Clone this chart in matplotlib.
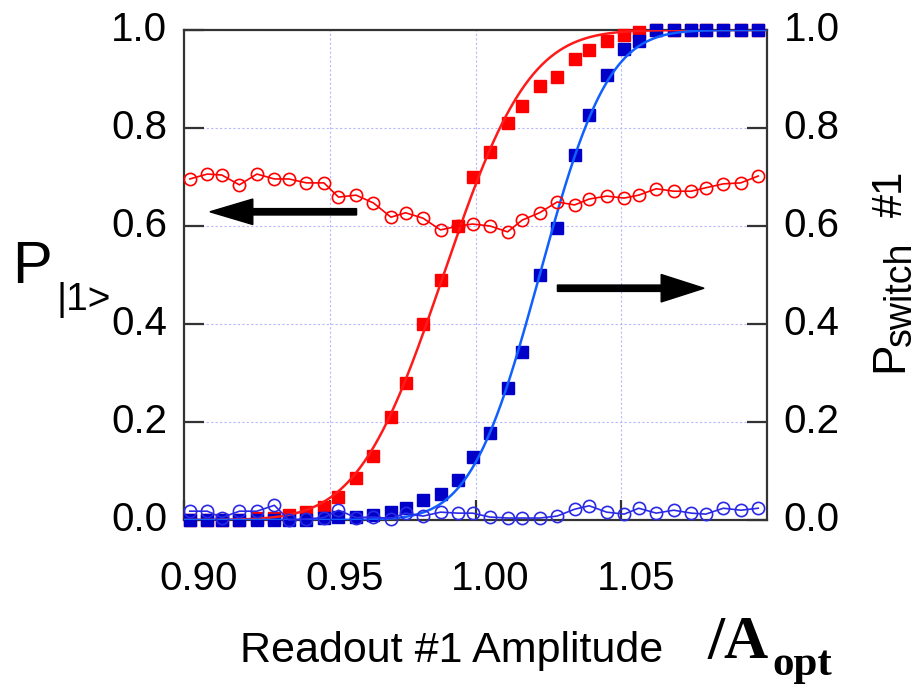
import math
import numpy as np
import matplotlib
matplotlib.use("Agg")
import matplotlib.pyplot as plt
from matplotlib.transforms import ScaledTranslation

# Readout amplitude, normalised to A_opt
amplitude = [0.902, 0.908, 0.913, 0.919, 0.925, 0.931, 0.936, 0.942, 0.948, 0.953,
             0.959, 0.965, 0.971, 0.976, 0.982, 0.988, 0.994, 0.999, 1.005, 1.011,
             1.016, 1.022, 1.028, 1.034, 1.039, 1.045, 1.051, 1.056, 1.062, 1.068,
             1.074, 1.079, 1.085, 1.091, 1.097]

# Switching probability of readout #1 (right axis)
pswitch_red = [0.000, 0.000, 0.000, 0.000, 0.005, 0.005, 0.010, 0.016, 0.027, 0.047,
               0.085, 0.130, 0.210, 0.280, 0.400, 0.490, 0.600, 0.700, 0.750, 0.810,
               0.845, 0.885, 0.905, 0.940, 0.960, 0.977, 0.990, 0.995, 1.000, 1.000,
               1.000, 1.000, 1.000, 1.000, 1.000]
pswitch_blue = [0.000, 0.000, 0.000, 0.000, 0.000, 0.000, 0.000, 0.000, 0.004, 0.006,
                0.006, 0.010, 0.016, 0.024, 0.041, 0.053, 0.082, 0.129, 0.178, 0.270,
                0.343, 0.500, 0.596, 0.745, 0.826, 0.908, 0.961, 0.978, 1.000, 1.000,
                1.000, 1.000, 1.000, 1.000, 1.000]

# Excited-state probability P|1> (left axis)
p1_red = [0.696, 0.706, 0.704, 0.684, 0.706, 0.696, 0.696, 0.688, 0.688, 0.659,
          0.663, 0.647, 0.618, 0.627, 0.616, 0.592, 0.600, 0.604, 0.600, 0.588,
          0.612, 0.627, 0.649, 0.643, 0.655, 0.661, 0.657, 0.663, 0.676, 0.671,
          0.671, 0.678, 0.686, 0.688, 0.702]
p1_blue = [0.018, 0.018, 0.005, 0.018, 0.018, 0.030, 0.000, 0.002, 0.005, 0.020,
           0.005, 0.006, 0.003, 0.014, 0.008, 0.016, 0.014, 0.014, 0.006, 0.004,
           0.004, 0.004, 0.008, 0.022, 0.029, 0.016, 0.012, 0.024, 0.014, 0.020,
           0.014, 0.012, 0.024, 0.020, 0.024]

# Error-function fits to the switching curves (centre, width)
fit_red = (0.9890, 0.0230)
fit_blue = (1.0220, 0.0185)

x_ticks = [0.90, 0.95, 1.00, 1.05]
x_tick_labels = ["0.90", "0.95", "1.00", "1.05"]
y_ticks = [0.0, 0.2, 0.4, 0.6, 0.8, 1.0]
y_tick_labels = ["0.0", "0.2", "0.4", "0.6", "0.8", "1.0"]


def erf_curve(x, centre, width):
    return np.array([0.5 * (1 + math.erf((v - centre) / (width * math.sqrt(2)))) for v in x])


W, H = 920, 684
fig = plt.figure(figsize=(W / 100, H / 100), dpi=100)
fig.patch.set_facecolor("white")
ax = fig.add_axes([184 / W, 1 - 520 / H, (767 - 184) / W, (520 - 30) / H])

SANS = "Liberation Sans"
SERIF = "Liberation Serif"

RED = "#ff0000"
RED_FIT = "#ff1a1a"
BLUE_SQ = "#0000c8"
BLUE_FIT = "#1060ff"
BLUE_CIRC = "#2a2ae6"

xfit = np.linspace(0.90, 1.10, 400)

ms_sq = 8.4
ms_c = 8.8

# switching probabilities with fits
ax.plot(amplitude, pswitch_red, ls="none", marker="s", ms=ms_sq, color=RED,
        mec=RED, clip_on=False, zorder=3)
ax.plot(xfit, erf_curve(xfit, *fit_red), color=RED_FIT, lw=1.8, zorder=4)
ax.plot(amplitude, pswitch_blue, ls="none", marker="s", ms=ms_sq, color=BLUE_SQ,
        mec=BLUE_SQ, clip_on=False, zorder=3)
ax.plot(xfit, erf_curve(xfit, *fit_blue), color=BLUE_FIT, lw=1.8, zorder=4)

# excited-state probabilities
ax.plot(amplitude, p1_red, color=RED, lw=1.2, marker="o", ms=ms_c, mfc="none",
        mec=RED, mew=1.2, clip_on=False, zorder=5)
ax.plot(amplitude, p1_blue, color=BLUE_CIRC, lw=1.2, marker="o", ms=ms_c, mfc="none",
        mec=BLUE_CIRC, mew=1.2, clip_on=False, zorder=5)

# arrows pointing to the relevant axes
ax.arrow(0.9592, 0.629, 0.9089 - 0.9592, 0.0, width=0.013, head_width=0.052,
         head_length=0.0147, length_includes_head=True, color="black", zorder=6)
ax.arrow(1.0281, 0.473, 1.0784 - 1.0281, 0.0, width=0.013, head_width=0.056,
         head_length=0.0147, length_includes_head=True, color="black", zorder=6)

ax.set_xlim(0.90, 1.10)
ax.set_ylim(0.0, 1.0)

ax.grid(True, color="#b8b8ff", ls=(0, (2, 2)), lw=0.8)
ax.set_axisbelow(True)

ax.set_xticks(x_ticks)
ax.set_xticklabels(x_tick_labels)
ax.set_yticks(y_ticks)
ax.set_yticklabels(y_tick_labels)

for s in ax.spines.values():
    s.set_linewidth(1.6)
    s.set_color("#333333")

ax.tick_params(axis="x", direction="in", length=14.5, width=1.6, color="#333333",
               pad=29, labelsize=29)
ax.tick_params(axis="y", direction="in", length=14.5, width=1.6, color="#333333",
               pad=12, labelsize=29, right=True, labelright=True)
for lab in ax.get_xticklabels() + ax.get_yticklabels():
    lab.set_fontfamily(SANS)
for lab in ax.get_xticklabels():
    lab.set_transform(lab.get_transform() + ScaledTranslation(0.15, 0, fig.dpi_scale_trans))
for t in ax.yaxis.get_major_ticks():
    for lab in (t.label1, t.label2):
        lab.set_fontfamily(SANS)
        lab.set_transform(lab.get_transform() + ScaledTranslation(0, 0.04, fig.dpi_scale_trans))


def px(x, y):
    return x / 100, (H - y) / 100


tr = fig.dpi_scale_trans

# left axis label P_|1>
fig.text(*px(12, 283), "P", transform=tr, fontsize=43, family=SANS, va="baseline", ha="left")
fig.text(*px(57, 310), "|1>", transform=tr, fontsize=28, family=SANS, va="baseline", ha="left")

# right axis label P_switch #1 (rotated)
fig.text(*px(902, 372), "P", transform=tr, fontsize=33, family=SANS, rotation=90,
         va="baseline", ha="left", rotation_mode="anchor")
fig.text(*px(911, 346), "switch", transform=tr, fontsize=27, family=SANS, rotation=90,
         va="baseline", ha="left", rotation_mode="anchor")
fig.text(*px(902, 217), "#1", transform=tr, fontsize=30, family=SANS, rotation=90,
         va="baseline", ha="left", rotation_mode="anchor")

# x axis label
fig.text(*px(240, 662), "Readout #1 Amplitude", transform=tr, fontsize=31, family=SANS,
         va="baseline", ha="left")
fig.text(*px(708, 658), "/A", transform=tr, fontsize=44, family=SERIF, weight="bold",
         va="baseline", ha="left")
fig.text(*px(772, 675), "opt", transform=tr, fontsize=31, family=SERIF, weight="bold",
         va="baseline", ha="left")

fig.savefig("out.png", dpi=100, facecolor="white")
